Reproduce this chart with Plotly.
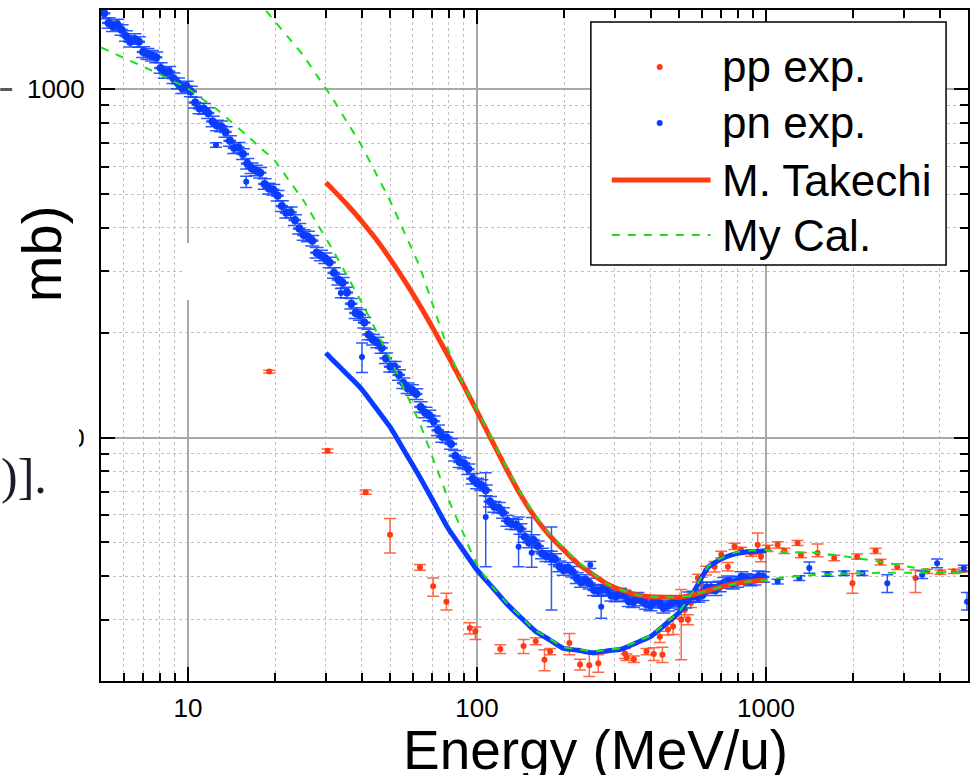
import math
import plotly.graph_objects as go

# ---------------- data (Energy in MeV/u, cross section in mb) ----------------
# pn experimental data: dense band (two interleaved reading passes)
pn_band_E = [5.13, 5.50, 5.89, 6.31, 6.76, 7.24, 7.76, 8.32, 8.91, 9.55,
             10.23, 10.96, 11.75, 12.59, 13.49, 14.45, 15.49, 16.60, 17.78, 19.05,
             20.42, 21.88, 23.44, 25.12, 26.92, 28.84, 30.90, 33.11, 35.48, 38.02,
             40.74, 43.65, 46.77, 50.12, 53.70, 57.54, 61.66, 66.07, 70.79, 75.86,
             81.28, 87.10, 93.33, 100.0, 107.2, 114.8, 123.0, 131.8, 141.3, 151.4,
             162.2, 173.8, 186.2, 199.5, 213.8, 229.1, 245.5, 263.0, 281.8, 302.0,
             323.6, 346.7, 371.5, 398.1, 426.6, 457.1, 489.8, 524.8, 562.3, 602.6,
             645.7, 691.8, 741.3, 794.3, 851.1, 912.0, 977.2]
pn_band_sigma = [1653, 1518, 1482, 1371, 1369, 1265, 1236, 1115, 1077, 1009,
                 986.5, 881.6, 855, 788, 754.6, 678.4, 652, 593.7, 576.3, 519,
                 495, 442.6, 421.4, 381.9, 367.8, 333.6, 318.4, 284.4, 260.9, 227.9,
                 213.9, 191.0, 180.9, 159.8, 151.4, 138.6, 133.4, 118.1, 111.4, 100.5,
                 95.9, 85.1, 81.2, 73.9, 70.6, 63.3, 60.8, 56.5, 54.7, 50.0,
                 48.8, 45.7, 44.8, 41.7, 41.2, 38.5, 38.1, 36.3, 36.5, 35.0,
                 35.2, 33.7, 34.1, 33.0, 33.6, 32.9, 33.9, 33.6, 35.0, 35.3,
                 37.1, 37.4, 38.7, 38.5, 39.3, 39.1, 39.8]
pn_band2_E = [5.31, 5.69, 6.10, 6.53, 7.00, 7.50, 8.04, 8.61, 9.23, 9.89,
              10.59, 11.35, 12.16, 13.03, 13.96, 14.96, 16.03, 17.18, 18.41, 19.72,
              21.13, 22.65, 24.27, 26.00, 27.86, 29.85, 31.99, 34.28, 36.73, 39.36,
              42.17, 45.19, 48.42, 51.88, 55.59, 59.57, 63.83, 68.39, 73.28, 78.52,
              84.14, 90.16, 96.61, 103.5, 110.9, 118.9, 127.4, 136.5, 146.2, 156.7,
              167.9, 179.9, 192.8, 206.5, 221.3, 237.1, 254.1, 272.3, 291.7, 312.6,
              335.0, 358.9, 384.6, 412.1, 441.6, 473.2, 507.0, 543.3, 582.1, 623.7,
              668.3, 716.1, 767.4, 822.2, 881.0, 944.1]
pn_band2_sigma = [1551, 1535, 1424, 1396, 1280, 1249, 1152, 1124, 1041, 1019,
                  916.6, 879.4, 808.7, 783.6, 711.4, 680.4, 612.1, 585.0, 535.0, 515.1,
                  462.2, 443.5, 398.3, 378.2, 339.6, 327.5, 297.2, 278.4, 242.4, 225.2,
                  197.8, 187.6, 169.0, 159.7, 143.4, 137.1, 122.5, 115.8, 105.0, 100.1,
                  88.7, 84.4, 76.2, 73.1, 65.5, 62.9, 57.7, 56.3, 51.9, 50.8,
                  46.5, 45.6, 42.7, 42.3, 39.5, 39.0, 36.5, 36.6, 35.2, 35.7,
                  33.9, 34.7, 33.3, 33.8, 32.5, 33.6, 33.2, 34.8, 34.9, 37.1,
                  36.5, 38.3, 38.1, 39.8, 38.9, 40.0]

# pn experimental data: isolated points with larger error bars
pn_sp_E = [12.5, 15.9, 33.8, 40.0, 107.2, 139.3, 154.6, 181, 246.6, 269,
           1097, 1304, 1412, 1633, 1864, 2155, 2628, 3470, 3910, 4832, 4960]
pn_sp_sigma = [692, 543, 260, 170.4, 59.2, 48.6, 46.7, 44.6, 43.1, 32.7,
               38.6, 39.5, 42.2, 40.6, 40.8, 40.8, 38.2, 40.4, 43.6, 42.2, 33.8]
pn_sp_err_plus = [10, 20, 8, 16.5, 20, 10.6, 12.3, 10.8, 1.0, 2.5,
                  0.6, 0.6, 1.7, 0.6, 0.6, 0.6, 2.2, 1.0, 1.2, 0.8, 2.1]
pn_sp_err_minus = [10, 20, 8, 16.5, 16.6, 6.0, 4.3, 12.6, 1.0, 2.4,
                   0.6, 0.6, 1.4, 0.6, 0.6, 0.6, 2.3, 1.0, 1.3, 0.8, 1.8]

# pp experimental data
pp_E = [19.1, 30.4, 41.2, 50.0, 63.5, 70.5, 78.4, 94.4, 98.7, 120.4,
        144.9, 159.7, 171.2, 179.1, 208.8, 227.3, 244.7, 262.9, 325, 329,
        349, 386, 409, 429, 438, 458, 477, 509, 523, 537,
        550, 581, 597, 620, 664, 700, 738, 778, 820, 888,
        936, 961, 1014, 1097, 1157, 1286, 1321, 1508, 1722, 1991,
        2067, 2395, 2492, 2845, 3290, 3610, 4012, 4467, 4831]
pp_sigma = [154.7, 91.6, 69.7, 52.6, 42.4, 37.4, 33.8, 28.4, 27.8, 24.7,
            25.2, 26.0, 23.0, 24.3, 25.7, 22.3, 22.2, 22.5, 24.0, 23.4,
            23.1, 24.3, 23.9, 26.8, 23.8, 28.1, 28.7, 30.0, 32.0, 30.0,
            33.5, 39.5, 38.2, 41.5, 42.6, 46.2, 42.6, 48.7, 47.6, 46.6,
            49.2, 45.5, 48.1, 49.2, 47.3, 49.8, 46.0, 46.6, 45.1, 38.2,
            45.5, 47.3, 43.9, 42.6, 39.5, 41.3, 41.1, 41.3, 41.7]
pp_err_plus = [1.5, 1.2, 1.0, 6.0, 0.8, 2.1, 1.9, 1.0, 0.8, 0.7,
               1.1, 0.6, 1.6, 0.5, 1.7, 0.8, 1.8, 1.3, 0.8, 0.5,
               0.5, 0.5, 1.0, 1.0, 1.2, 1.0, 1.5, 6.6, 1.5, 1.0,
               1.0, 1.0, 1.5, 1.2, 1.5, 1.0, 1.2, 1.0, 0.8, 1.0,
               4.0, 1.5, 1.0, 1.0, 0.8, 0.8, 0.8, 2.9, 0.8, 2.5,
               0.8, 0.8, 0.8, 0.8, 2.2, 0.6, 0.6, 0.6, 0.6]
pp_err_minus = [1.5, 1.2, 1.0, 6.0, 0.8, 2.4, 1.8, 1.1, 1.5, 0.7,
                1.2, 0.6, 1.6, 0.5, 1.9, 0.8, 1.6, 1.3, 0.8, 0.5,
                0.5, 0.5, 1.0, 1.0, 1.2, 1.0, 1.5, 7.0, 1.5, 1.0,
                1.0, 1.0, 1.5, 1.2, 1.5, 1.0, 1.2, 1.0, 0.8, 1.0,
                3.0, 1.5, 1.0, 1.0, 0.8, 0.8, 0.8, 1.1, 0.8, 2.5,
                0.8, 0.8, 0.8, 0.8, 3.6, 0.6, 0.6, 0.6, 0.6]

# M. Takechi parameterisation (red: upper curve, blue: lower curve)
tk_red_E = [30, 31.6, 35.5, 39.8, 44.7, 50.1, 56.2, 63.1, 70.8, 79.4,
            89.1, 100, 112.2, 125.9, 141.3, 158.5, 177.8, 199.5, 223.9, 251.2,
            281.8, 316.2, 354.8, 398.1, 446.7, 501.2, 562.3, 631, 707.9, 794.3,
            891.3, 1000]
tk_red_sigma = [540, 517, 467, 419.4, 371.6, 325.6, 281.9, 241.3, 204.2, 171.8,
                143.3, 118.9, 98.5, 81.8, 68.6, 59.2, 52.5, 47.6, 43.4, 40.5,
                38.0, 36.5, 35.4, 34.9, 34.8, 34.8, 35.4, 36.4, 37.4, 38.2,
                38.7, 39.0]
tk_blue_E = [30, 31.6, 35.5, 39.8, 44.7, 50.1, 56.2, 63.1, 70.8, 79.4,
             89.1, 100, 112.2, 125.9, 141.3, 158.5, 177.8, 199.5, 223.9, 251.2,
             281.8, 316.2, 354.8, 398.1, 446.7, 501.2, 562.3, 631, 707.9, 794.3,
             891.3, 1000]
tk_blue_sigma = [175.0, 167.4, 152.0, 138.0, 121.6, 107.1, 91.2, 77.6, 65.3, 54.9,
                 47.8, 41.7, 37.4, 33.5, 30.5, 27.9, 26.3, 24.8, 24.5, 24.1,
                 24.4, 24.7, 25.7, 26.8, 29.0, 31.5, 36.1, 42.4, 45.0, 46.5,
                 47.1, 47.3]

# My calculation (two dashed curves)
cal_a_E = [15.85, 17.78, 19.95, 22.39, 25.12, 28.18, 31.62, 35.48, 39.81, 44.67,
           50.12, 56.23, 63.10, 70.79, 79.43, 89.13, 100, 112.2, 125.9, 141.3,
           158.5, 177.8, 199.5, 223.9, 251.2, 281.8, 316.2, 354.8, 398.1, 446.7,
           501.2, 562.3, 631, 707.9, 794.3, 891.3, 1000, 1124, 1472, 1913,
           2486, 3257, 4000, 4843]
cal_a_sigma = [1978, 1763, 1571, 1400, 1248, 1084, 942.1, 806.5, 690.3, 574.2,
               477.6, 386.0, 311.9, 236.6, 179.6, 143.3, 120.3, 99.7, 82.7, 69.4,
               59.9, 53.1, 48.2, 43.9, 40.8, 38.0, 36.5, 35.4, 34.9, 34.8,
               34.8, 35.4, 36.4, 37.4, 38.2, 38.7, 39.0, 39.6, 40.3, 40.7,
               40.9, 40.9, 40.9, 40.9]
cal_b_E = [5.01, 5.62, 6.31, 7.08, 7.94, 8.91, 10.0, 11.22, 12.59, 14.13,
           15.85, 17.78, 19.95, 22.39, 25.12, 28.18, 31.62, 35.48, 39.81, 44.67,
           50.12, 56.23, 63.10, 70.79, 79.43, 89.13, 100, 112.2, 125.9, 141.3,
           158.5, 177.8, 199.5, 223.9, 251.2, 281.8, 316.2, 354.8, 398.1, 446.7,
           501.2, 562.3, 631, 707.9, 794.3, 891.3, 1000, 1124, 1472, 1913,
           2486, 3257, 4000, 4843]
cal_b_sigma = [1319, 1262, 1208, 1157, 1107, 1055, 1005, 938, 875.4, 805.8,
               741.8, 680.4, 624.2, 546.7, 478.8, 407.6, 347.0, 291.9, 245.6, 203.1,
               168.0, 136.5, 111.0, 86.1, 66.9, 53.7, 43.2, 37.6, 33.7, 30.7,
               28.0, 26.5, 25.0, 24.7, 24.3, 24.6, 24.9, 25.9, 27.0, 29.2,
               31.7, 36.4, 42.7, 45.3, 46.9, 47.4, 47.6, 47.0, 46.7, 45.5,
               44.0, 42.3, 41.2, 40.9]

x_tick_vals = [10, 100, 1000]
x_tick_text = ["10", "100", "1000"]
y_tick_vals = [100, 1000]
y_tick_text = ["100", "1000"]
x_minor_vals = [6, 7, 8, 9, 20, 30, 40, 50, 60, 70, 80, 90,
                200, 300, 400, 500, 600, 700, 800, 900, 2000, 3000, 4000]
y_minor_vals = [30, 40, 50, 60, 70, 80, 90, 200, 300, 400, 500, 600, 700, 800, 900]

legend_labels = ["pp exp.", "pn exp.", "M. Takechi", "My Cal."]
x_title = "Energy (MeV/u)"
y_title_fragment = "mb)"
page_fragment = ")]."

# ---------------- style ----------------
RED = "#FF3A12"
BLUE = "#0A3CFF"
GREEN = "#19E019"
RED_ERR = "rgba(255,85,45,0.9)"
BLUE_ERR = "rgba(20,70,255,0.9)"
FONT = "Liberation Sans, Arial, sans-serif"

WIDTH, HEIGHT = 977, 775
L, R, T, B = 101, 7, 10, 94
PW = WIDTH - L - R
PH = HEIGHT - T - B


def px(x):
    return (x - L) / PW


def py(y):
    return (HEIGHT - B - y) / PH


fig = go.Figure()

fig.add_trace(go.Scatter(
    x=pp_E, y=pp_sigma, mode="markers", name=legend_labels[0], showlegend=False,
    marker=dict(color=RED, size=6),
    error_y=dict(type="data", symmetric=False, array=pp_err_plus, arrayminus=pp_err_minus,
                 color=RED_ERR, thickness=1.5, width=6)))

fig.add_trace(go.Scatter(
    x=pn_band_E + pn_band2_E, y=pn_band_sigma + pn_band2_sigma, mode="markers",
    name=legend_labels[1], showlegend=False,
    marker=dict(color=BLUE, size=8),
    error_x=dict(type="percent", value=5, color=BLUE_ERR, thickness=2.5, width=0),
    error_y=dict(type="percent", value=3.5, color=BLUE_ERR, thickness=1.5, width=7)))

fig.add_trace(go.Scatter(
    x=pn_sp_E, y=pn_sp_sigma, mode="markers", name=legend_labels[1], showlegend=False,
    marker=dict(color=BLUE, size=6),
    error_y=dict(type="data", symmetric=False, array=pn_sp_err_plus, arrayminus=pn_sp_err_minus,
                 color=BLUE_ERR, thickness=1.5, width=6)))

fig.add_trace(go.Scatter(
    x=tk_blue_E, y=tk_blue_sigma, mode="lines", showlegend=False,
    line=dict(color=BLUE, width=5, shape="spline", smoothing=0.5)))

fig.add_trace(go.Scatter(
    x=tk_red_E, y=tk_red_sigma, mode="lines", name=legend_labels[2], showlegend=False,
    line=dict(color=RED, width=5, shape="spline", smoothing=0.5)))

fig.add_trace(go.Scatter(
    x=cal_b_E, y=cal_b_sigma, mode="lines", name=legend_labels[3], showlegend=False,
    line=dict(color=GREEN, width=2, dash="8px,8px", shape="spline", smoothing=0.5)))

fig.add_trace(go.Scatter(
    x=cal_a_E, y=cal_a_sigma, mode="lines", name=legend_labels[3], showlegend=False,
    line=dict(color=GREEN, width=2, dash="8px,8px", shape="spline", smoothing=0.5)))

axis_common = dict(
    type="log", ticks="inside", ticklen=14, tickwidth=2, tickcolor="black",
    showline=True, linewidth=2, linecolor="black", mirror="ticks",
    showgrid=True, gridcolor="#a8a8a8", gridwidth=1.5, zeroline=False,
    tickfont=dict(size=26, family=FONT, color="black"),
)

fig.update_xaxes(
    range=[math.log10(5), math.log10(5000)], tickmode="array",
    tickvals=x_tick_vals, ticktext=x_tick_text, ticklabelstandoff=3,
    minor=dict(tickmode="array", tickvals=x_minor_vals, ticks="inside", ticklen=8, tickwidth=2,
               tickcolor="black", showgrid=True, gridcolor="#c2c2c2", gridwidth=1,
               griddash="3px,3px"),
    **axis_common)
fig.update_yaxes(
    range=[math.log10(20), math.log10(1690)], tickmode="array",
    tickvals=y_tick_vals, ticktext=y_tick_text, ticklabelstandoff=9,
    minor=dict(tickmode="array", tickvals=y_minor_vals, ticks="inside", ticklen=8, tickwidth=2,
               tickcolor="black", showgrid=True, gridcolor="#c2c2c2", gridwidth=1,
               griddash="3px,3px"),
    **axis_common)

shapes = []
# white patches of the overlapping page
shapes.append(dict(type="rect", xref="paper", yref="paper", x0=px(184), x1=px(226), y0=py(300), y1=py(243),
                   fillcolor="white", line=dict(width=0), layer="above"))
shapes.append(dict(type="rect", xref="paper", yref="paper", x0=px(-5), x1=px(79), y0=py(452), y1=py(412),
                   fillcolor="white", line=dict(width=0), layer="above"))
# grey dash at far left
shapes.append(dict(type="line", xref="paper", yref="paper", x0=px(0), x1=px(12), y0=py(89.5), y1=py(89.5),
                   line=dict(color="#5a5a52", width=3), layer="above"))
# legend box
shapes.append(dict(type="rect", xref="paper", yref="paper", x0=px(592), x1=px(948), y0=py(265), y1=py(22),
                   fillcolor="white", line=dict(color="black", width=1.5), layer="above"))
# legend samples
shapes.append(dict(type="circle", xref="paper", yref="paper", x0=px(658), x1=px(664), y0=py(70), y1=py(64),
                   fillcolor=RED, line=dict(width=0), layer="above"))
shapes.append(dict(type="circle", xref="paper", yref="paper", x0=px(658), x1=px(664), y0=py(126), y1=py(120),
                   fillcolor=BLUE, line=dict(width=0), layer="above"))
shapes.append(dict(type="line", xref="paper", yref="paper", x0=px(613), x1=px(712), y0=py(180), y1=py(180),
                   line=dict(color=RED, width=5), layer="above"))
shapes.append(dict(type="line", xref="paper", yref="paper", x0=px(613), x1=px(712), y0=py(235), y1=py(235),
                   line=dict(color=GREEN, width=2, dash="8px,8px"), layer="above"))

annotations = []
for label, yc in zip(legend_labels, [66.5, 123, 180, 235]):
    annotations.append(dict(text=label, xref="paper", yref="paper", x=px(721), y=py(yc),
                            xanchor="left", yanchor="middle", showarrow=False,
                            font=dict(size=44, family=FONT, color="black")))
annotations.append(dict(text=x_title, xref="paper", yref="paper", x=px(597), y=py(750),
                        xanchor="center", yanchor="middle", showarrow=False,
                        font=dict(size=55, family=FONT, color="black")))
annotations.append(dict(text=y_title_fragment, xref="paper", yref="paper", x=px(41), y=py(254),
                        xanchor="center", yanchor="middle", showarrow=False, textangle=-90,
                        font=dict(size=56, family=FONT, color="black")))
annotations.append(dict(text=page_fragment, xref="paper", yref="paper", x=px(-1), y=py(476),
                        xanchor="left", yanchor="middle", showarrow=False,
                        font=dict(size=50, family="Liberation Serif, Times New Roman, serif", color="#1c1c28")))

fig.update_layout(
    width=WIDTH, height=HEIGHT,
    margin=dict(l=L, r=R, t=T, b=B, pad=0),
    paper_bgcolor="white", plot_bgcolor="white",
    showlegend=False,
    shapes=shapes, annotations=annotations,
)

fig.write_html("out.html")
